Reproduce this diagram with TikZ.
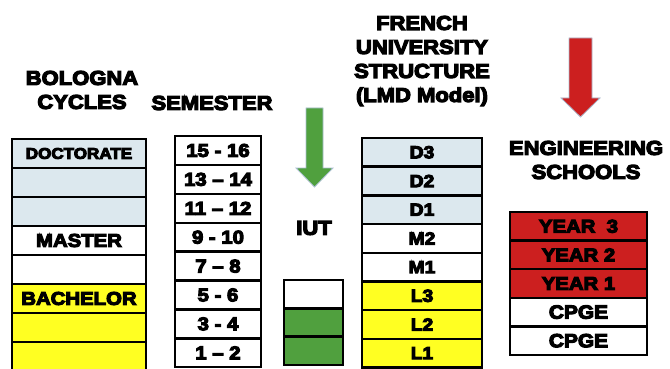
\documentclass[tikz,border=0pt]{standalone}
\usepackage{fontspec}
\newfontfamily\hv[FakeStretch=1.1,FakeBold=6]{Liberation Sans Bold}
\definecolor{lblue}{RGB}{220,232,238}
\definecolor{yel}{RGB}{255,255,34}
\definecolor{grn}{RGB}{80,160,62}
\definecolor{rd}{RGB}{204,31,31}
\definecolor{arrline}{RGB}{170,190,210}
\tikzset{
  cell/.style={draw=black, line width=2.4pt, inner sep=0pt, font=\hv\fontsize{17.5}{17}\selectfont},
  title/.style={font=\hv\fontsize{20}{24}\selectfont, align=center, inner sep=0pt},
  bol/.style={cell, minimum width=134pt, minimum height=29pt},
  sem/.style={cell, minimum width=86pt, minimum height=28.9pt, font=\hv\fontsize{18.5}{18}\selectfont},
  iut/.style={cell, minimum width=59pt, minimum height=28.3pt},
  fr/.style={cell, minimum width=120pt, minimum height=28.7pt},
  eng/.style={cell, minimum width=137pt, minimum height=28.6pt, font=\hv\fontsize{18.5}{18}\selectfont},
  bigarrow/.style={draw=arrline, line width=0.8pt}
}
\begin{document}
\begin{tikzpicture}[x=1pt,y=-1pt]
\useasboundingbox (0,0) rectangle (670,369);
% titles
\node[title] (tbol) at (82,90) {BOLOGNA\\CYCLES};
\node[title] (tsem) at (212,103) {SEMESTER};
\node[title] (tfr) at (422,61) {FRENCH\\UNIVERSITY\\STRUCTURE\\(LMD Model)};
\node[title] (tiut) at (314,228) {IUT};
\node[title] (teng) at (586,160) {ENGINEERING\\SCHOOLS};
% Bologna column
\node[bol, fill=lblue, font=\hv\fontsize{15.5}{16}\selectfont] (b1) at (79,153.5) {DOCTORATE};
\node[bol, fill=lblue] (b2) at (79,182.5) {};
\node[bol, fill=lblue] (b3) at (79,211.5) {};
\node[bol, fill=white, font=\hv\fontsize{18.5}{18}\selectfont] (b4) at (79,240.5) {MASTER};
\node[bol, fill=white] (b5) at (79,269.5) {};
\node[bol, fill=yel, font=\hv\fontsize{18.5}{18}\selectfont] (b6) at (79,298.5) {BACHELOR};
\node[bol, fill=yel] (b7) at (79,327.5) {};
\node[bol, fill=yel] (b8) at (79,356.5) {};
% Semester column
\node[sem] (s1) at (218,150.5) {15 - 16};
\node[sem] (s2) at (218,179.4) {13 – 14};
\node[sem] (s3) at (218,208.3) {11 – 12};
\node[sem] (s4) at (218,237.2) {9 - 10};
\node[sem] (s5) at (218,266.1) {7 – 8};
\node[sem] (s6) at (218,295.0) {5 - 6};
\node[sem] (s7) at (218,323.9) {3 - 4};
\node[sem] (s8) at (218,352.8) {1 – 2};
% IUT
\draw[bigarrow, fill=grn] (306,108) -- (323,108) -- (323,168) -- (333,168) -- (314.5,187) -- (296,168) -- (306,168) -- cycle;
\node[iut, fill=white] (i1) at (313.5,294.2) {};
\node[iut, fill=grn] (i2) at (313.5,322.5) {};
\node[iut, fill=grn] (i3) at (313.5,350.8) {};
% French
\node[fr, fill=lblue] (f1) at (422,152.3) {D3};
\node[fr, fill=lblue] (f2) at (422,181.0) {D2};
\node[fr, fill=lblue] (f3) at (422,209.7) {D1};
\node[fr, fill=white] (f4) at (422,238.4) {M2};
\node[fr, fill=white] (f5) at (422,267.1) {M1};
\node[fr, fill=yel] (f6) at (422,295.8) {L3};
\node[fr, fill=yel] (f7) at (422,324.5) {L2};
\node[fr, fill=yel] (f8) at (422,353.2) {L1};
% Engineering
\draw[bigarrow, fill=rd] (569,38) -- (592,38) -- (592,98) -- (600,98) -- (580.5,117) -- (561,98) -- (569,98) -- cycle;
\node[eng, fill=rd] (e1) at (578.5,226.3) {YEAR\ \ 3};
\node[eng, fill=rd] (e2) at (578.5,254.9) {YEAR 2};
\node[eng, fill=rd] (e3) at (578.5,283.5) {YEAR 1};
\node[eng, fill=white, font=\hv\fontsize{19}{19}\selectfont] (e4) at (578.5,312.1) {CPGE};
\node[eng, fill=white, font=\hv\fontsize{19}{19}\selectfont] (e5) at (578.5,340.7) {CPGE};
\end{tikzpicture}
\end{document}
